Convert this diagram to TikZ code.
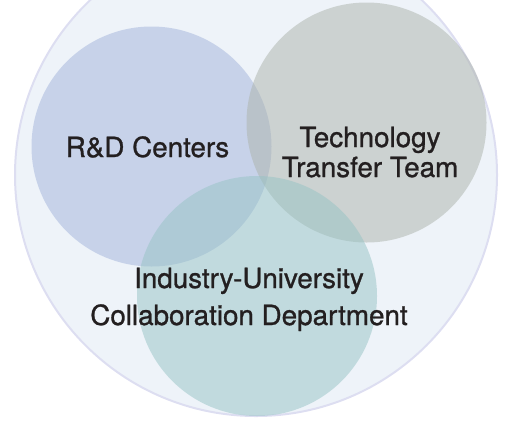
\documentclass[tikz,border=0pt]{standalone}
\usepackage{fontspec}
\setmainfont{TeX Gyre Heros}[FakeBold=1.0]
\begin{document}
\begin{tikzpicture}[x=1pt,y=1pt,
  blob/.style={circle,minimum size=240pt,inner sep=0pt,fill opacity=0.5,draw=none},
  lbl/.style={text=labeltext,align=center,font=\fontsize{27.8}{30}\selectfont},
]
\definecolor{bgfill}{RGB}{238,243,249}
\definecolor{bgline}{RGB}{221,222,241}
\definecolor{rdfill}{RGB}{162,179,219}
\definecolor{ttfill}{RGB}{172,179,171}
\definecolor{iufill}{RGB}{150,195,197}
\definecolor{labeltext}{RGB}{35,31,32}
\useasboundingbox (0,0) rectangle (505,-421);
\clip (0,0) rectangle (505,-421);
\node[circle,minimum size=482pt,inner sep=0pt,fill=bgfill,draw=bgline,line width=2pt] (outer) at (256,-175) {};
\node[blob,fill=rdfill] (rd) at (151.5,-146.5) {};
\node[blob,fill=ttfill] (tt) at (366.5,-122.5) {};
\node[blob,fill=iufill] (iu) at (257,-296) {};
\node[lbl,anchor=base] (rdl) at (147.5,-157) {R\&D Centers};
\node[lbl,anchor=base] (ttl) at (370,-177) {Technology\\Transfer Team};
\node[lbl,anchor=base,font=\fontsize{27.8}{37}\selectfont] (iul) at (249,-325) {Industry-University\\Collaboration Department};
\end{tikzpicture}
\end{document}
